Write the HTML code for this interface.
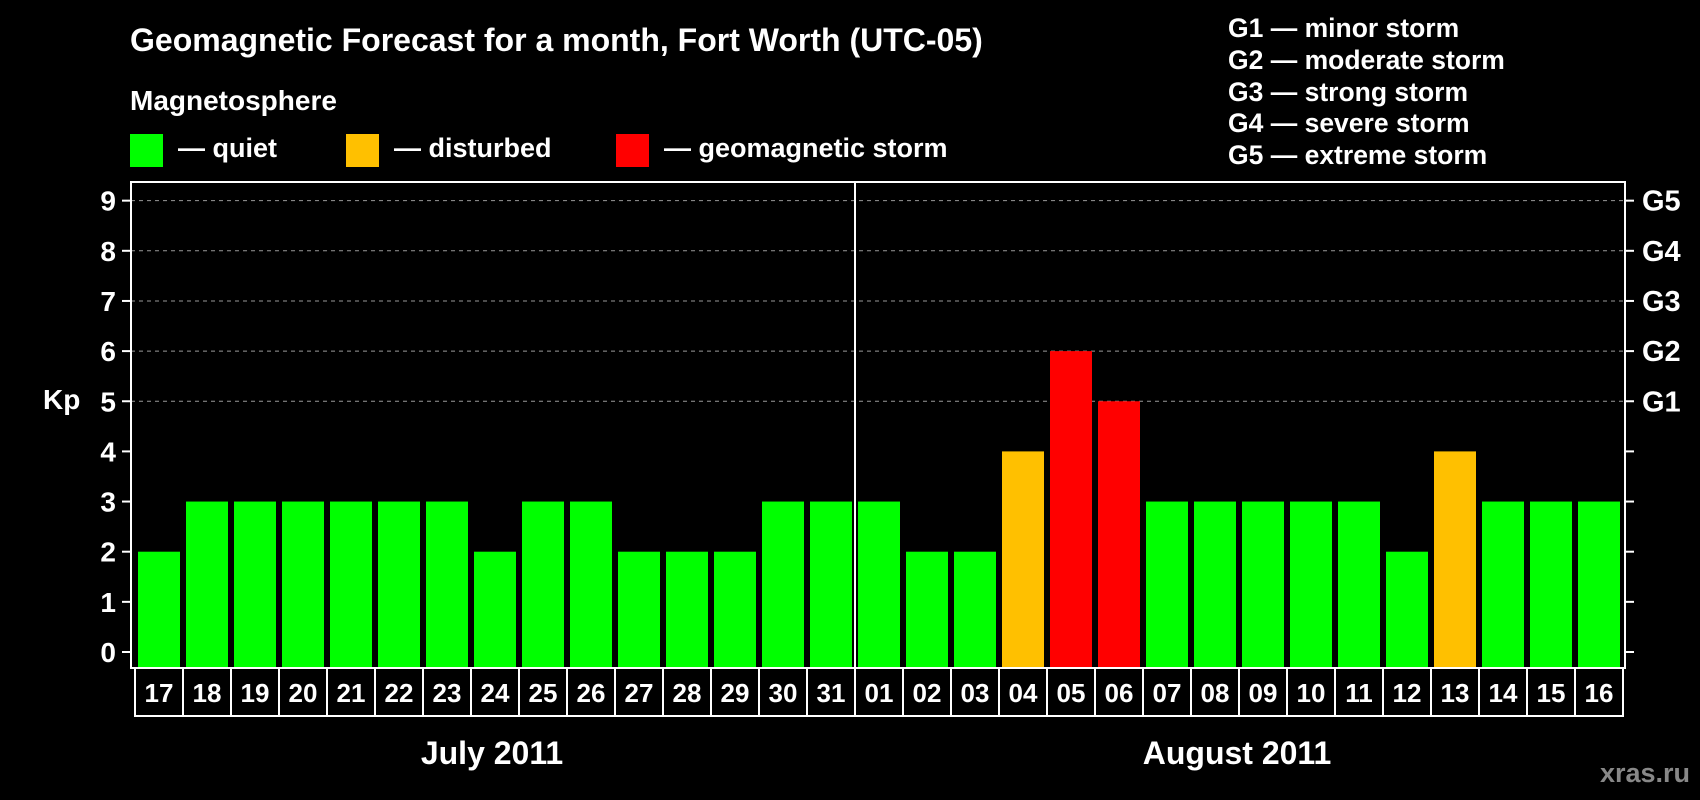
<!DOCTYPE html>
<html><head><meta charset="utf-8"><style>
html,body{margin:0;padding:0;background:#000;}
svg{display:block;font-family:"Liberation Sans",Arial,sans-serif;font-weight:bold;}
</style></head><body>
<svg id="chart" width="1700" height="800" viewBox="0 0 1700 800">
<rect width="1700" height="800" fill="#000"/>
<text x="130" y="51" font-size="32" fill="#fff">Geomagnetic Forecast for a month, Fort Worth (UTC-05)</text>
<text x="130" y="110" font-size="28" fill="#fff">Magnetosphere</text>
<g><rect x="130" y="134" width="33" height="33" fill="#00ff00"/><text x="178" y="157" font-size="27" fill="#fff">— quiet</text></g>
<g><rect x="346" y="134" width="33" height="33" fill="#ffc000"/><text x="394" y="157" font-size="27" fill="#fff">— disturbed</text></g>
<g><rect x="616" y="134" width="33" height="33" fill="#ff0000"/><text x="664" y="157" font-size="27" fill="#fff">— geomagnetic storm</text></g>
<g font-size="26.5" fill="#fff">
<text x="1228" y="37">G1 — minor storm</text>
<text x="1228" y="69">G2 — moderate storm</text>
<text x="1228" y="101">G3 — strong storm</text>
<text x="1228" y="132">G4 — severe storm</text>
<text x="1228" y="164">G5 — extreme storm</text>
</g>
<text x="43" y="409" font-size="28" fill="#fff">Kp</text>
<text x="492" y="764" font-size="32" fill="#fff" text-anchor="middle">July 2011</text>
<text x="1237" y="764" font-size="32" fill="#fff" text-anchor="middle">August 2011</text>
<text x="1690" y="782" font-size="27" fill="#888" text-anchor="end">xras.ru</text>
<g id="plot"></g>
</svg>
<script>
const days = ["17","18","19","20","21","22","23","24","25","26","27","28","29","30","31","01","02","03","04","05","06","07","08","09","10","11","12","13","14","15","16"];
const kpValues = [2,3,3,3,3,3,3,2,3,3,2,2,2,3,3,3,2,2,4,6,5,3,3,3,3,3,2,4,3,3,3];
const yTicks = [0,1,2,3,4,5,6,7,8,9];
const gLabels = ["G1","G2","G3","G4","G5"];
const gLevels = [5,6,7,8,9];
const monthSplitIndex = 15;

const NS = "http://www.w3.org/2000/svg";
const g = document.getElementById("plot");
const L = 131, R = 1625, T = 182, B = 668;
const y0 = 652, unit = 50.15;
const pitch = 48, barW = 42, firstX = 138;
const yScale = v => y0 - v * unit;
const xScale = i => firstX + i * pitch;
function mk(tag, attrs) { const e = document.createElementNS(NS, tag); for (const k in attrs) e.setAttribute(k, attrs[k]); g.appendChild(e); return e; }
function color(v) { return v >= 5 ? "#ff0000" : (v >= 4 ? "#ffc000" : "#00ff00"); }

yTicks.forEach(t => {
  const y = yScale(t);
  if (t >= 5) {
    const gl = mk("line", {x1: L, x2: R, y1: y, y2: y, stroke: "#999", "stroke-width": 1, "stroke-dasharray": "4,4"});
    
    
  }
  const tl = mk("line", {x1: 122, x2: L, y1: y, y2: y, stroke: "#fff", "stroke-width": 2});
  
  
  const tr = mk("line", {x1: R, x2: 1634, y1: y, y2: y, stroke: "#fff", "stroke-width": 2});
  
  
  const lb = mk("text", {x: 116, y: y + 10, "font-size": 28, fill: "#fff", "text-anchor": "end"});
  lb.textContent = t;
  
  
});
gLabels.forEach((lab, i) => {
  const t = mk("text", {x: 1642, y: yScale(gLevels[i]) + 10, "font-size": 29, fill: "#fff"});
  t.textContent = lab;
  
  
});

kpValues.forEach((v, i) => {
  const b = mk("rect", {x: xScale(i), y: yScale(v), width: barW, height: B - yScale(v), fill: color(v)});
  
  
  const c = mk("rect", {x: xScale(i) - 3, y: B, width: pitch, height: 48, fill: "none", stroke: "#fff", "stroke-width": 2});
  
  
  const t = mk("text", {x: xScale(i) + barW / 2, y: B + 34, "font-size": 26, fill: "#fff", "text-anchor": "middle"});
  t.textContent = days[i];
  
  
});

const fr = mk("rect", {x: L, y: T, width: R - L, height: B - T, fill: "none", stroke: "#fff", "stroke-width": 2});


const sx = xScale(monthSplitIndex) - 3;
const sp = mk("line", {x1: sx, x2: sx, y1: T, y2: B, stroke: "#fff", "stroke-width": 2});


</script>
</body></html>
